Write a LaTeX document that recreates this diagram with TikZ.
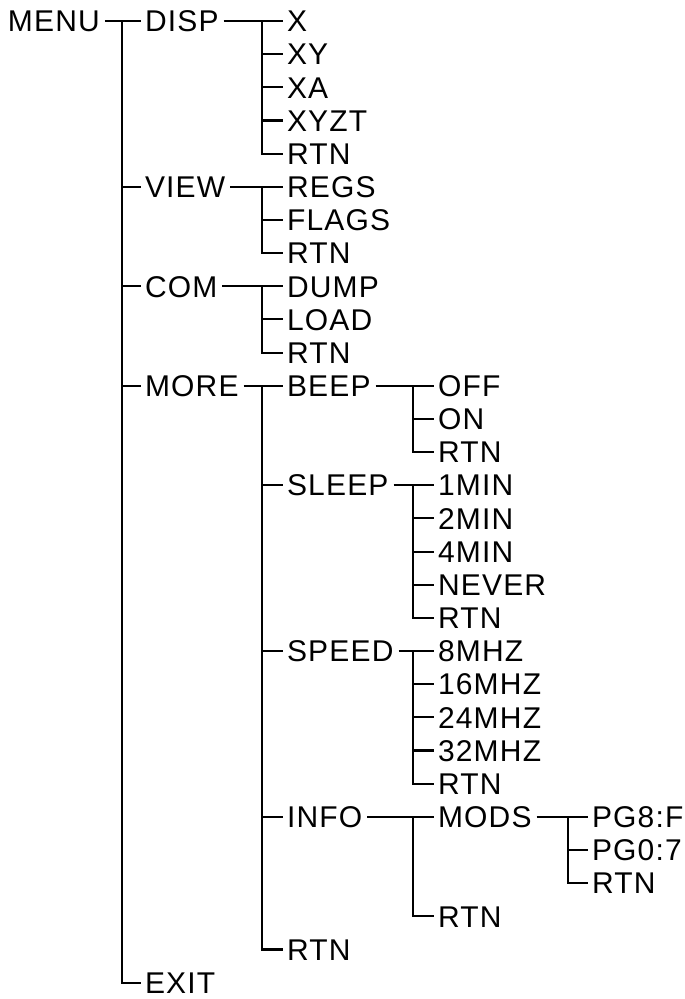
\documentclass[tikz,border=0pt]{standalone}
\usepackage{fontspec}
\setmainfont{Liberation Sans}[LetterSpace=4]
\begin{document}
\begin{tikzpicture}[x=1pt,y=-33.16pt,
  item/.style={anchor=west,inner sep=0pt,outer sep=0pt,text height=21.5pt,text depth=0pt,
    font=\fontsize{30}{30}\selectfont},
  link/.style={line width=2.1pt,shorten <=5pt,shorten >=4pt},
  branch/.style={line width=2.1pt,shorten >=4pt}]
\useasboundingbox (0pt,21pt) rectangle (685pt,-978pt);
\coordinate (ta) at (122,0);
\coordinate (tb) at (262,0);
\coordinate (tc) at (413,0);
\coordinate (td) at (568,0);
% nodes
\node[item] (menu) at (8,0) {MENU};
\node[item] (disp) at (145,0) {DISP};
\node[item] (x) at (287,0) {X};
\node[item] (xy) at (287,1) {XY};
\node[item] (xa) at (287,2) {XA};
\node[item] (xyzt) at (287,3) {XYZT};
\node[item] (rtn1) at (287,4) {RTN};
\node[item] (view) at (145,5) {VIEW};
\node[item] (regs) at (287,5) {REGS};
\node[item] (flags) at (287,6) {FLAGS};
\node[item] (rtn2) at (287,7) {RTN};
\node[item] (com) at (145,8) {COM};
\node[item] (dump) at (287,8) {DUMP};
\node[item] (load) at (287,9) {LOAD};
\node[item] (rtn3) at (287,10) {RTN};
\node[item] (more) at (145,11) {MORE};
\node[item] (beep) at (287,11) {BEEP};
\node[item] (off) at (438,11) {OFF};
\node[item] (on) at (438,12) {ON};
\node[item] (rtn4) at (438,13) {RTN};
\node[item] (sleep) at (287,14) {SLEEP};
\node[item] (m1) at (438,14) {1MIN};
\node[item] (m2) at (438,15) {2MIN};
\node[item] (m4) at (438,16) {4MIN};
\node[item] (never) at (438,17) {NEVER};
\node[item] (rtn5) at (438,18) {RTN};
\node[item] (speed) at (287,19) {SPEED};
\node[item] (f8) at (438,19) {8MHZ};
\node[item] (f16) at (438,20) {16MHZ};
\node[item] (f24) at (438,21) {24MHZ};
\node[item] (f32) at (438,22) {32MHZ};
\node[item] (rtn6) at (438,23) {RTN};
\node[item] (info) at (287,24) {INFO};
\node[item] (mods) at (438,24) {MODS};
\node[item] (pg8) at (592,24) {PG8:F};
\node[item] (pg0) at (592,25) {PG0:7};
\node[item] (rtn7) at (592,26) {RTN};
\node[item] (rtn8) at (438,27) {RTN};
\node[item] (rtn9) at (287,28) {RTN};
\node[item] (exit) at (145,29) {EXIT};
% MENU
\draw[link] (menu) -- (disp);
\draw[branch] (ta |- disp.west) |- (exit.west);
\foreach \c in {view,com,more} \draw[branch] (ta |- \c.west) -- (\c.west);
% DISP
\draw[link] (disp) -- (x);
\draw[branch] (tb |- x.west) |- (rtn1.west);
\foreach \c in {xy,xa,xyzt} \draw[branch] (tb |- \c.west) -- (\c.west);
% VIEW
\draw[link] (view) -- (regs);
\draw[branch] (tb |- regs.west) |- (rtn2.west);
\draw[branch] (tb |- flags.west) -- (flags.west);
% COM
\draw[link] (com) -- (dump);
\draw[branch] (tb |- dump.west) |- (rtn3.west);
\draw[branch] (tb |- load.west) -- (load.west);
% MORE
\draw[link] (more) -- (beep);
\draw[branch] (tb |- beep.west) |- (rtn9.west);
\foreach \c in {sleep,speed,info} \draw[branch] (tb |- \c.west) -- (\c.west);
% BEEP
\draw[link] (beep) -- (off);
\draw[branch] (tc |- off.west) |- (rtn4.west);
\draw[branch] (tc |- on.west) -- (on.west);
% SLEEP
\draw[link] (sleep) -- (m1);
\draw[branch] (tc |- m1.west) |- (rtn5.west);
\foreach \c in {m2,m4,never} \draw[branch] (tc |- \c.west) -- (\c.west);
% SPEED
\draw[link] (speed) -- (f8);
\draw[branch] (tc |- f8.west) |- (rtn6.west);
\foreach \c in {f16,f24,f32} \draw[branch] (tc |- \c.west) -- (\c.west);
% INFO
\draw[link] (info) -- (mods);
\draw[branch] (tc |- mods.west) |- (rtn8.west);
% MODS
\draw[link] (mods) -- (pg8);
\draw[branch] (td |- pg8.west) |- (rtn7.west);
\draw[branch] (td |- pg0.west) -- (pg0.west);
\end{tikzpicture}
\end{document}
